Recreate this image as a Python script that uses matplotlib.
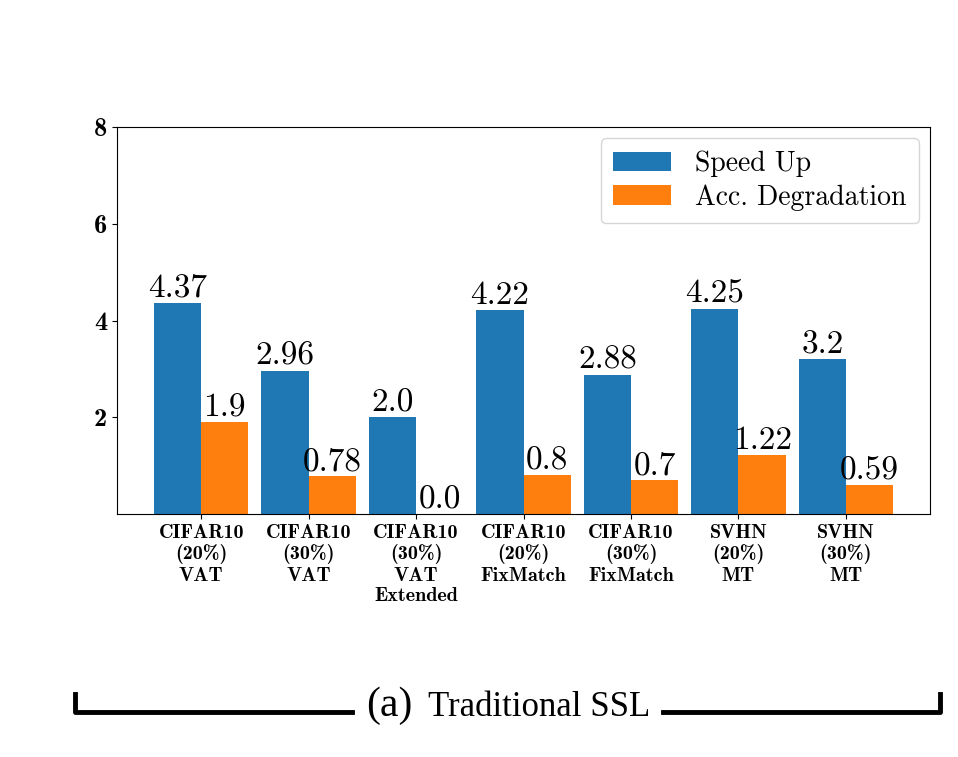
import matplotlib
matplotlib.use("Agg")
import matplotlib.pyplot as plt
import numpy as np
from matplotlib.lines import Line2D

plt.rcParams['axes.formatter.use_mathtext'] = True

# data
categories = [
    "CIFAR10\n(20%)\nVAT",
    "CIFAR10\n(30%)\nVAT",
    "CIFAR10\n(30%)\nVAT\nExtended",
    "CIFAR10\n(20%)\nFixMatch",
    "CIFAR10\n(30%)\nFixMatch",
    "SVHN\n(20%)\nMT",
    "SVHN\n(30%)\nMT",
]
speed_up = [4.37, 2.96, 2.0, 4.22, 2.88, 4.25, 3.2]
acc_degradation = [1.9, 0.78, 0.0, 0.8, 0.7, 1.22, 0.59]
y_ticks = [2, 4, 6, 8]

fig = plt.figure(figsize=(9.58, 7.57), dpi=100)
ax = fig.add_axes([0.122, 0.321, 0.849, 0.511])

x = np.arange(len(categories))
width = 0.44
b1 = ax.bar(x - width / 2, speed_up, width, color='#1f77b4', label='Speed Up')
b2 = ax.bar(x + width / 2, acc_degradation, width, color='#ff7f0e', label='Acc. Degradation')

ax.bar_label(b1, labels=[str(v) for v in speed_up], fontfamily='cmr10', fontsize=24, padding=0)
ax.bar_label(b2, labels=[str(v) for v in acc_degradation], fontfamily='cmr10', fontsize=24, padding=0)

ax.set_ylim(0, 8)
ax.set_yticks(y_ticks)
ax.set_yticklabels([str(t) for t in y_ticks], fontfamily='cmb10', fontsize=19)
ax.set_xticks(x)
ax.set_xticklabels(categories, fontfamily='cmb10', fontsize=14.5, linespacing=1.18)

ax.legend(loc='upper right', prop={'family': 'cmr10', 'size': 20}, handlelength=2.1,
          borderpad=0.45, labelspacing=0.25, handletextpad=0.85, borderaxespad=0.4)

# caption with bracket
fig.text(366 / 958, 1 - 706 / 757, "(a)", fontfamily='Liberation Serif', fontsize=30,
         ha='left', va='center')
fig.text(428 / 958, 1 - 707 / 757, "Traditional SSL", fontfamily='Liberation Serif', fontsize=25,
         ha='left', va='center')
lw = 3.5
fig.add_artist(Line2D([75 / 958, 75 / 958, 352 / 958], [1 - 694 / 757, 1 - 712 / 757, 1 - 712 / 757],
                      color='black', lw=lw, transform=fig.transFigure))
fig.add_artist(Line2D([663 / 958, 940 / 958, 940 / 958], [1 - 712 / 757, 1 - 712 / 757, 1 - 694 / 757],
                      color='black', lw=lw, transform=fig.transFigure))

fig.savefig("out.png", dpi=100)
